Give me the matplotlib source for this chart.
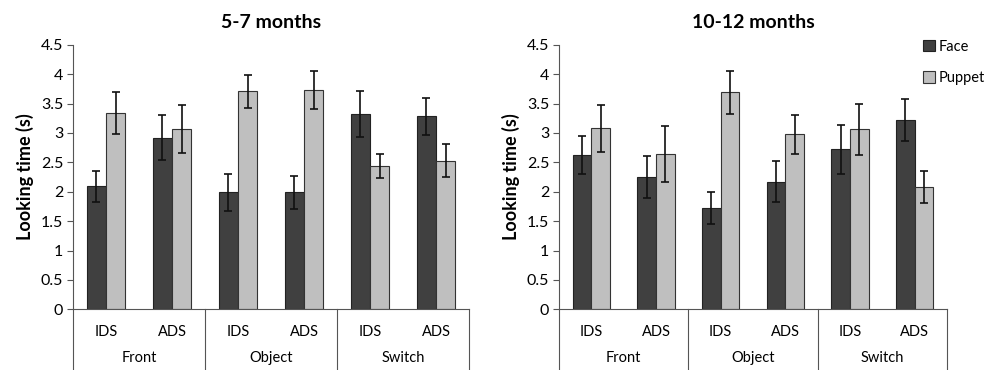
import numpy as np
import matplotlib
matplotlib.use('Agg')
import matplotlib.pyplot as plt
from matplotlib.patches import Patch

plt.rcParams['font.family'] = ['Lato', 'DejaVu Sans']

groups = ['Front', 'Object', 'Switch']
speech = ['IDS', 'ADS']
titles = ['5-7 months', '10-12 months']

# order: Front IDS, Front ADS, Object IDS, Object ADS, Switch IDS, Switch ADS
face_young = [2.09, 2.92, 1.99, 1.99, 3.32, 3.28]
face_young_err = [0.26, 0.38, 0.32, 0.28, 0.39, 0.31]
puppet_young = [3.34, 3.07, 3.71, 3.73, 2.44, 2.53]
puppet_young_err = [0.36, 0.41, 0.28, 0.33, 0.20, 0.28]

face_old = [2.62, 2.25, 1.72, 2.17, 2.72, 3.22]
face_old_err = [0.32, 0.35, 0.27, 0.35, 0.42, 0.35]
puppet_old = [3.08, 2.64, 3.69, 2.98, 3.06, 2.08]
puppet_old_err = [0.40, 0.48, 0.36, 0.33, 0.44, 0.27]

face_col = '#404040'
puppet_col = '#bfbfbf'

fig = plt.figure(figsize=(9.99, 3.70), dpi=100)
ax1 = fig.add_axes([0.0731, 0.164, 0.3964, 0.715])
ax2 = fig.add_axes([0.5596, 0.164, 0.3884, 0.715])

datasets = [(face_young, face_young_err, puppet_young, puppet_young_err),
            (face_old, face_old_err, puppet_old, puppet_old_err)]

for ax, title, (f, fe, p, pe) in zip([ax1, ax2], titles, datasets):
    x = np.arange(len(f))
    w = 0.29
    ax.bar(x - w/2, f, w, color=face_col, edgecolor='#222222', linewidth=0.8)
    ax.bar(x + w/2, p, w, color=puppet_col, edgecolor='#333333', linewidth=0.8)
    ax.errorbar(x - w/2, f, yerr=fe, fmt='none', ecolor='#111111', elinewidth=1.2, capsize=3, capthick=1.2)
    ax.errorbar(x + w/2, p, yerr=pe, fmt='none', ecolor='#111111', elinewidth=1.2, capsize=3, capthick=1.2)
    ax.set_xlim(-0.5, len(f) - 0.5)
    ax.set_ylim(0, 4.5)
    ax.set_yticks(np.arange(0, 4.51, 0.5))
    ax.set_yticklabels(['%g' % v for v in np.arange(0, 4.51, 0.5)], fontsize=11.5)
    ax.tick_params(axis='y', length=4, width=0.8, color='#555555', pad=3)
    ax.set_xticks([])
    for s in ['top', 'right']:
        ax.spines[s].set_visible(False)
    ax.spines['left'].set_color('#555555')
    ax.spines['bottom'].set_color('#555555')
    ax.set_ylabel('Looking time (s)', fontsize=13, fontweight='bold', labelpad=5)
    ax.set_title(title, fontsize=14, fontweight='bold', pad=12)

    trans = ax.get_xaxis_transform()
    for d in [-0.5, 1.5, 3.5, 5.5]:
        ax.plot([d, d], [0, -0.25], color='#555555', linewidth=0.8, transform=trans, clip_on=False)
    for i in range(len(f)):
        ax.text(x[i], -0.086, speech[i % 2], transform=trans, ha='center', va='center', fontsize=10.5)
    for g, name in enumerate(groups):
        ax.text(2*g + 0.5, -0.184, name, transform=trans, ha='center', va='center', fontsize=10.5)

handles = [Patch(facecolor=face_col, edgecolor='#222222', linewidth=0.8, label='Face'),
           Patch(facecolor=puppet_col, edgecolor='#333333', linewidth=0.8, label='Puppet')]
fig.legend(handles=handles, loc='upper left', bbox_to_anchor=(0.92, 0.905), frameon=False,
           fontsize=10.5, handlelength=0.8, handleheight=0.8, handletextpad=0.25, labelspacing=1.2,
           borderaxespad=0, borderpad=0.3)

fig.savefig('out.png', dpi=100)
